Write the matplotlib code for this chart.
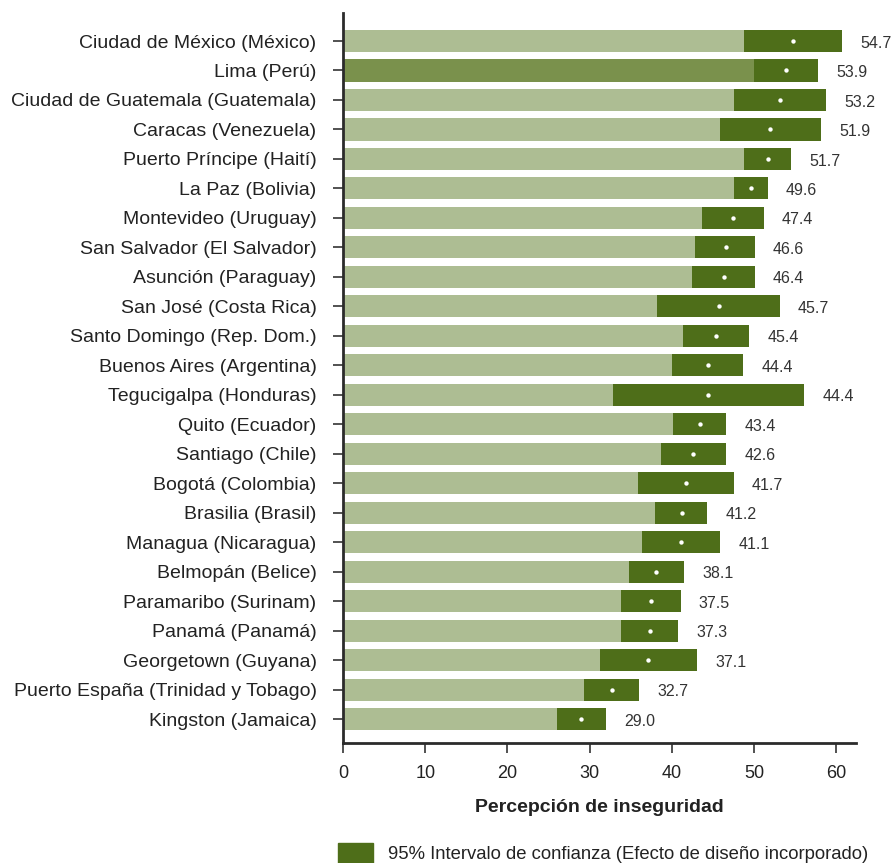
import numpy as np
import matplotlib
matplotlib.use("Agg")
import matplotlib.pyplot as plt
from matplotlib.patches import Patch

plt.rcParams['font.family'] = ['Liberation Sans', 'DejaVu Sans']

# --- datos ---
ciudades = [
    "Ciudad de México (México)", "Lima (Perú)", "Ciudad de Guatemala (Guatemala)",
    "Caracas (Venezuela)", "Puerto Príncipe (Haití)", "La Paz (Bolivia)",
    "Montevideo (Uruguay)", "San Salvador (El Salvador)", "Asunción (Paraguay)",
    "San José (Costa Rica)", "Santo Domingo (Rep. Dom.)", "Buenos Aires (Argentina)",
    "Tegucigalpa (Honduras)", "Quito (Ecuador)", "Santiago (Chile)",
    "Bogotá (Colombia)", "Brasilia (Brasil)", "Managua (Nicaragua)",
    "Belmopán (Belice)", "Paramaribo (Surinam)", "Panamá (Panamá)",
    "Georgetown (Guyana)", "Puerto España (Trinidad y Tobago)", "Kingston (Jamaica)",
]
media = [54.7, 53.9, 53.2, 51.9, 51.7, 49.6, 47.4, 46.6, 46.4, 45.7, 45.4, 44.4,
         44.4, 43.4, 42.6, 41.7, 41.2, 41.1, 38.1, 37.5, 37.3, 37.1, 32.7, 29.0]
ic_inf = [48.8, 50.0, 47.5, 45.8, 48.8, 47.5, 43.7, 42.8, 42.5, 38.2, 41.3, 40.0,
          32.8, 40.2, 38.7, 35.9, 38.0, 36.4, 34.8, 33.8, 33.8, 31.3, 29.3, 26.0]
ic_sup = [60.7, 57.8, 58.8, 58.2, 54.5, 51.7, 51.2, 50.1, 50.1, 53.1, 49.4, 48.7,
          56.1, 46.6, 46.6, 47.5, 44.3, 45.9, 41.5, 41.1, 40.8, 43.1, 36.0, 32.0]
destacado = "Lima (Perú)"

# --- colores ---
verde_claro = '#adbd93'
verde_destacado = '#7a914c'
verde_oscuro = '#4e6e19'
gris_texto = '#333333'

fig = plt.figure(figsize=(8.92, 8.63), dpi=100)
ax = fig.add_axes([343/892, 1 - 743/863, (856 - 343)/892, (743 - 13)/863])

y = np.arange(len(ciudades))
inf = np.array(ic_inf)
sup = np.array(ic_sup)
colores_base = [verde_destacado if c == destacado else verde_claro for c in ciudades]

alto = 0.75
ax.barh(y, inf, height=alto, color=colores_base, linewidth=0)
ax.barh(y, sup - inf, left=inf, height=alto, color=verde_oscuro, linewidth=0)
ax.scatter(media, y, s=10, color='white', zorder=3, linewidths=0)

# valores a la derecha de cada intervalo
for yi, m, s in zip(y, media, sup):
    ax.annotate(f"{m:.1f}", xy=(s, yi), xytext=(13, -1.5), textcoords='offset points',
                va='center', ha='left', fontsize=11.5, color=gris_texto)

ax.set_yticks(y)
ax.set_yticklabels(ciudades, fontsize=14, color='#222222')
ax.set_ylim(len(ciudades) - 1 + 0.81, -0.95)
ax.set_xlim(0, 62.4)
ax.set_xticks(np.arange(0, 61, 10))
ax.tick_params(axis='x', labelsize=13, labelcolor='#222222', length=7, width=1.2,
               color='#333333', pad=9)
ax.tick_params(axis='y', length=7, width=1.2, color='#333333', pad=12)

ax.spines['top'].set_visible(False)
ax.spines['right'].set_visible(False)
for lado in ['left', 'bottom']:
    ax.spines[lado].set_linewidth(2)
    ax.spines[lado].set_color('#2b2b2b')

ax.set_xlabel('Percepción de inseguridad', fontsize=14, fontweight='bold',
              color='#222222', labelpad=12)

fig.legend(handles=[Patch(color=verde_oscuro,
                          label='95% Intervalo de confianza (Efecto de diseño incorporado)')],
           loc='upper left', bbox_to_anchor=(338/892, 1 - 843/863), frameon=False,
           fontsize=13.3, handlelength=1.9, handleheight=1.25, handletextpad=0.8,
           borderpad=0, borderaxespad=0, labelcolor='#222222')

fig.savefig('out.png', dpi=100)
